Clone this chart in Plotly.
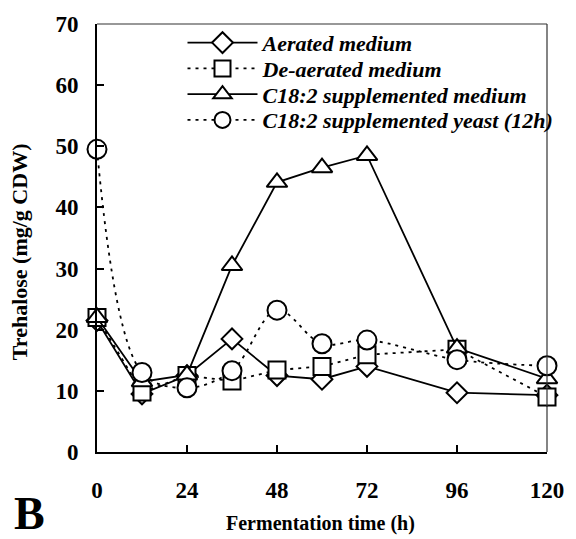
import plotly.graph_objects as go

hours = [0, 12, 24, 36, 48, 60, 72, 96, 120]
aerated = [21.5, 9.5, 12.5, 18.5, 12.5, 11.9, 14.0, 9.7, 9.3]
deaerated = [22.0, 9.8, 12.5, 11.6, 13.4, 14.0, 15.9, 16.8, 9.0]
c18_medium = [22.0, 11.5, 12.6, 30.5, 44.1, 46.5, 48.5, 17.0, 12.0]
c18_yeast = [49.5, 13.0, 10.5, 13.3, 23.2, 17.7, 18.3, 15.1, 14.1]

names = ["Aerated medium", "De-aerated medium",
         "C18:2 supplemented medium", "C18:2 supplemented yeast (12h)"]
x_ticks = [0, 24, 48, 72, 96, 120]
y_ticks = [0, 10, 20, 30, 40, 50, 60, 70]

FONT = "Liberation Serif"
TOP, BOTTOM = 20, 452  # plot area pixel bounds (for paper-coordinate placement)
H = BOTTOM - TOP

series = [
    (aerated, "diamond", "solid", "linear", 16),
    (deaerated, "square", "3px,5px", "linear", 17),
    (c18_medium, "triangle-up", "solid", "linear", 18),
    (c18_yeast, "circle", "3px,5px", "spline", 19),
]
legend_rows_px = [39, 65, 91, 117]

fig = go.Figure()
legend_ids = ["legend", "legend2", "legend3", "legend4"]
for (vals, sym, dash, shape, ms), name, lid in zip(series, names, legend_ids):
    fig.add_trace(go.Scatter(
        x=hours, y=vals, name="<b><i>" + name + "</i></b>", mode="lines+markers",
        line=dict(color="black", width=1.8, dash=dash, shape=shape, smoothing=1.0),
        marker=dict(symbol=sym, size=ms, color="white", line=dict(width=2, color="black")),
        cliponaxis=False, legend=lid,
    ))

layout_legends = {}
for lid, ypx in zip(legend_ids, legend_rows_px):
    layout_legends[lid] = dict(
        x=0.19, y=(BOTTOM - ypx) / H, xanchor="left", yanchor="middle",
        bgcolor="rgba(0,0,0,0)", borderwidth=0,
        font=dict(family=FONT, size=22, color="black"),
        itemwidth=70,
    )

fig.update_layout(
    width=576, height=539,
    margin=dict(l=97, r=21, t=TOP, b=539 - BOTTOM),
    paper_bgcolor="white", plot_bgcolor="white",
    font=dict(family=FONT, color="black", size=20),
    showlegend=True,
    xaxis=dict(
        range=[0, 120], tickvals=x_ticks, ticktext=[str(v) for v in x_ticks],
        showgrid=False, zeroline=False,
        showline=True, linecolor="black", linewidth=2,
        ticks="inside", ticklen=7, tickwidth=2, tickcolor="black",
        tickfont=dict(family=FONT, size=23, color="black", weight="bold"),
        ticklabelstandoff=16,
    ),
    yaxis=dict(
        range=[0, 70], tickvals=y_ticks, ticktext=[str(v) for v in y_ticks],
        showgrid=False, zeroline=False,
        showline=True, linecolor="black", linewidth=2,
        ticks="inside", ticklen=7, tickwidth=2, tickcolor="black",
        tickfont=dict(family=FONT, size=23, color="black", weight="bold"),
        ticklabelstandoff=12,
    ),
    shapes=[
        dict(type="line", xref="paper", yref="paper", x0=0, x1=1, y0=1, y1=1,
             line=dict(color="#333", width=1.2)),
        dict(type="line", xref="paper", yref="paper", x0=1, x1=1, y0=0, y1=1,
             line=dict(color="#333", width=1.2)),
    ],
    annotations=[
        dict(text="<b>Trehalose (mg/g CDW)</b>", xref="paper", yref="paper",
             x=-0.1725, y=(BOTTOM - 250) / H, textangle=-90, showarrow=False,
             xanchor="center", yanchor="middle", font=dict(family=FONT, size=22)),
        dict(text="<b>Fermentation time (h)</b>", xref="paper", yref="paper",
             x=0.497, y=(BOTTOM - 524) / H, showarrow=False,
             xanchor="center", yanchor="middle", font=dict(family=FONT, size=20)),
        dict(text="<b>B</b>", xref="paper", yref="paper",
             x=-0.151, y=(BOTTOM - 514) / H, showarrow=False,
             xanchor="center", yanchor="middle", height=42,
             font=dict(family=FONT, size=46)),
    ],
    **layout_legends,
)

fig.write_html("out.html")
